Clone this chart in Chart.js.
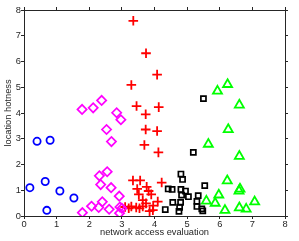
<!DOCTYPE html>
<html>
<head>
<meta charset="utf-8">
<script src="https://cdn.jsdelivr.net/npm/chart.js@4.4.1/dist/chart.umd.min.js"></script>
<style>
html,body{margin:0;padding:0;background:#fff;}
#wrap{width:299px;height:241px;}
</style>
</head>
<body>
<div id="wrap"><canvas id="c" width="299" height="241"></canvas></div>
<script>
// ---- data ----
const xTicks = [0,1,2,3,4,5,6,7,8];
const yTicks = [0,1,2,3,4,5,6,7,8];

const blueX = [0.40, 0.80, 0.18, 0.65, 1.10, 1.53, 0.70];
const blueY = [2.90, 2.94, 1.10, 1.34, 0.97, 0.70, 0.22];

const magentaX = [1.78, 2.12, 2.38, 2.84, 2.97, 2.53, 2.68, 2.55, 2.31, 2.35, 2.67, 2.92, 2.40, 2.07, 2.29, 2.61, 1.79, 2.94, 2.93, 3.00];
const magentaY = [4.14, 4.20, 4.49, 4.01, 3.74, 3.36, 2.89, 1.72, 1.56, 1.22, 1.10, 0.77, 0.55, 0.38, 0.33, 0.26, 0.13, 0.35, 0.11, 0.30];

const redX = [3.35, 3.74, 4.08, 3.29, 3.45, 4.13, 3.73, 3.73, 4.08, 3.69, 4.12, 4.22, 3.34, 3.56, 3.47, 3.82, 3.90, 3.52, 3.64, 4.10, 3.74, 3.29, 3.44, 3.54, 3.64, 3.85, 3.95, 3.21, 3.10, 3.76, 3.96];
const redY = [7.58, 6.32, 5.49, 5.09, 4.27, 4.23, 3.95, 3.36, 3.30, 2.76, 2.47, 1.30, 1.38, 1.38, 1.05, 0.97, 0.84, 0.84, 0.62, 0.56, 0.49, 0.37, 0.33, 0.30, 0.37, 0.19, 0.23, 0.30, 0.35, 1.13, 0.40];

const blackX = [5.50, 5.19, 4.81, 4.86, 5.54, 4.42, 4.54, 4.81, 4.95, 4.83, 5.04, 5.34, 4.56, 4.80, 5.30, 5.30, 5.45, 5.48, 4.77, 4.75, 4.33];
const blackY = [4.56, 2.47, 1.63, 1.42, 1.18, 1.05, 1.03, 1.03, 0.97, 0.81, 0.75, 0.79, 0.53, 0.53, 0.57, 0.37, 0.28, 0.20, 0.34, 0.18, 0.25];

const greenX = [6.24, 5.93, 6.60, 6.26, 5.65, 6.60, 6.23, 6.62, 6.59, 5.97, 5.59, 5.86, 7.07, 6.16, 6.60, 6.81];
const greenY = [5.11, 4.85, 4.31, 3.36, 2.79, 2.32, 1.37, 1.05, 0.97, 0.82, 0.58, 0.50, 0.55, 0.22, 0.32, 0.27];

function pts(xs, ys){ return xs.map((x,i)=>({x:x, y:ys[i]})); }

const font = {family: '"Liberation Sans", Arial, Helvetica, sans-serif', size: 9.3};
const clear = 'rgba(0,0,0,0)';
const axisColor = '#262626';
const gridOpts = {display: true, drawOnChartArea: false, drawTicks: true, tickLength: 3, color: axisColor, lineWidth: 1};
const borderOpts = {display: true, color: axisColor, width: 1};

new Chart(document.getElementById('c'), {
  type: 'scatter',
  data: {
    datasets: [
      {data: pts(blueX, blueY), pointStyle: 'circle', pointRadius: 3.6, borderColor: '#0000ff', backgroundColor: clear, borderWidth: 1.8},
      {data: pts(magentaX, magentaY), pointStyle: 'rectRot', pointRadius: 4.6, borderColor: '#ff00ff', backgroundColor: clear, borderWidth: 1.7},
      {data: pts(redX, redY), pointStyle: 'cross', pointRadius: 4.8, borderColor: '#ff0000', backgroundColor: clear, borderWidth: 1.8},
      {data: pts(blackX, blackY), pointStyle: 'rect', pointRadius: 3.6, borderColor: '#000000', backgroundColor: clear, borderWidth: 1.7},
      {data: pts(greenX, greenY), pointStyle: 'triangle', pointRadius: 5.2, borderColor: '#00ff00', backgroundColor: clear, borderWidth: 1.8}
    ]
  },
  options: {
    responsive: false,
    animation: false,
    devicePixelRatio: 1,
    layout: {padding: {top: 7, right: 11, left: 0, bottom: 0}},
    plugins: {legend: {display: false}, tooltip: {enabled: false}},
    scales: {
      x: {
        type: 'linear', position: 'bottom', min: 0, max: 8,
        afterBuildTicks: s => { s.ticks = xTicks.map(v => ({value: v})); },
        ticks: {font: font, color: axisColor, padding: 0, maxRotation: 0},
        grid: gridOpts,
        border: borderOpts,
        title: {display: true, text: 'network access evaluation', font: font, color: axisColor, padding: {top: 0, bottom: 3}},
        afterFit: s => { s.height = 25; }
      },
      y: {
        type: 'linear', position: 'left', min: 0, max: 8,
        afterBuildTicks: s => { s.ticks = yTicks.map(v => ({value: v})); },
        ticks: {font: font, color: axisColor, padding: 0},
        grid: gridOpts,
        border: borderOpts,
        title: {display: true, text: 'location hotness', font: font, color: axisColor, padding: {top: 3, bottom: 0}},
        afterFit: s => { s.width = 24; }
      },
      x2: {
        type: 'linear', position: 'top', min: 0, max: 8,
        afterBuildTicks: s => { s.ticks = xTicks.map(v => ({value: v})); },
        ticks: {display: false},
        grid: gridOpts,
        border: borderOpts,
        afterFit: s => { s.height = 3; }
      },
      y2: {
        type: 'linear', position: 'right', min: 0, max: 8,
        afterBuildTicks: s => { s.ticks = yTicks.map(v => ({value: v})); },
        ticks: {display: false},
        grid: gridOpts,
        border: borderOpts,
        afterFit: s => { s.width = 3; }
      }
    }
  }
});
</script>
</body>
</html>
